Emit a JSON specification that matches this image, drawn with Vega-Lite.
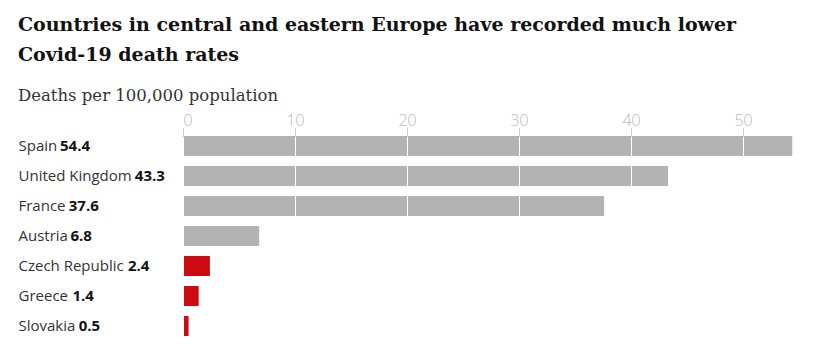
{
  "$schema": "https://vega.github.io/schema/vega-lite/v6.json",
  "width": 616,
  "height": 200,
  "padding": {"left": 18, "top": 15, "right": 10, "bottom": 5},
  "background": "white",
  "view": {"stroke": null},
  "title": {
    "text": ["Countries in central and eastern Europe have recorded much lower", "Covid-19 death rates"],
    "subtitle": "Deaths per 100,000 population",
    "anchor": "start",
    "frame": "bounds",
    "font": "DejaVu Serif",
    "fontSize": 19,
    "fontWeight": "bold",
    "lineHeight": 30,
    "color": "#121212",
    "subtitleFont": "DejaVu Serif",
    "subtitleFontSize": 16.5,
    "subtitleColor": "#333333",
    "subtitlePadding": 23,
    "offset": 8
  },
  "data": {
    "values": [
      {"country": "Spain", "deaths": 54.4, "region": "Western"},
      {"country": "United Kingdom", "deaths": 43.3, "region": "Western"},
      {"country": "France", "deaths": 37.6, "region": "Western"},
      {"country": "Austria", "deaths": 6.8, "region": "Western"},
      {"country": "Czech Republic", "deaths": 2.4, "region": "Central and eastern"},
      {"country": "Greece", "deaths": 1.4, "region": "Central and eastern"},
      {"country": "Slovakia", "deaths": 0.5, "region": "Central and eastern"}
    ]
  },
  "encoding": {
    "y": {
      "field": "country",
      "type": "nominal",
      "sort": null,
      "scale": {"paddingInner": 0.3333, "paddingOuter": 0},
      "axis": {
        "title": null,
        "domain": false,
        "ticks": false,
        "labelAlign": "left",
        "labelPadding": 165,
        "labelFont": "Open Sans",
        "labelFontSize": 15,
        "labelColor": "#333333",
        "labelBaseline": "middle"
      }
    }
  },
  "layer": [
    {
      "mark": {"type": "bar"},
      "encoding": {
        "x": {
          "field": "deaths",
          "type": "quantitative",
          "scale": {"domain": [0, 55], "nice": false},
          "axis": {
            "orient": "top",
            "title": null,
            "values": [0, 10, 20, 30, 40, 50],
            "domain": false,
            "tickColor": "#cccccc",
            "tickSize": 8,
            "labelPadding": 0,
            "labelFont": "Open Sans",
            "labelFontSize": 16,
            "labelFontWeight": 300,
            "labelColor": "#bbbbbb",
            "grid": true,
            "gridColor": "#ffffff",
            "gridWidth": 1,
            "gridOpacity": 1,
            "zindex": 1
          }
        },
        "color": {
          "field": "region",
          "type": "nominal",
          "scale": {"domain": ["Western", "Central and eastern"], "range": ["#b3b3b3", "#cc0a11"]},
          "legend": null
        }
      }
    },
    {
      "mark": {
        "type": "text",
        "align": "left",
        "baseline": "middle",
        "font": "Open Sans",
        "fontSize": 15,
        "fontWeight": "bold",
        "color": "#121212",
        "dx": {"expr": "-165 + 15*(0.6*length(datum.country) + 0.6 - 0.34*length(replace(datum.country + ' ', regexp('[ilj ]','g'), '')) * 0 - 0.34*(length(datum.country) + 1 - length(replace(datum.country + ' ', regexp('[ilj ]','g'), ''))) - 0.23*(length(datum.country) - length(replace(datum.country, regexp('[tfr]','g'), ''))) - 0.125*(length(datum.country) - length(replace(datum.country, regexp('[csz]','g'), ''))) - 0.07*(length(datum.country) - length(replace(datum.country, regexp('[vkyxga]','g'), ''))) + 0.3*(length(datum.country) - length(replace(datum.country, regexp('[mw]','g'), ''))) - 0.05*(length(datum.country) - length(replace(datum.country, regexp('[SF]','g'), ''))) + 0.03*(length(datum.country) - length(replace(datum.country, regexp('[ACKR]','g'), ''))) + 0.12*(length(datum.country) - length(replace(datum.country, regexp('[GU]','g'), ''))))"}
      },
      "encoding": {
        "x": {"datum": 0, "type": "quantitative"},
        "text": {"field": "deaths", "type": "quantitative", "format": ".1f"}
      }
    }
  ]
}
